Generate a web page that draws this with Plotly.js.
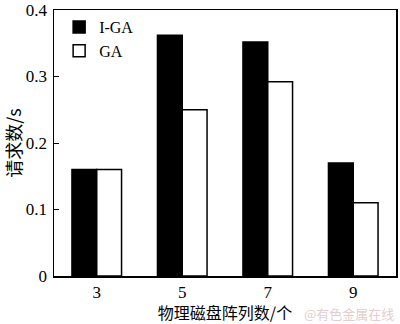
<!DOCTYPE html>
<html><head><meta charset="utf-8">
<script src="https://cdn.plot.ly/plotly-3.0.1.min.js"></script>
<style>body{margin:0;background:#fff}#c{width:400px;height:324px}</style>
</head><body><div id="c"></div>
<script>
const categories = ['3', '5', '7', '9'];
const igaValues = [0.16, 0.362, 0.352, 0.17];
const gaValues = [0.16, 0.25, 0.292, 0.11];
const yTicks = [0, 0.1, 0.2, 0.3, 0.4];
const yTickText = ['0', '0.1', '0.2', '0.3', '0.4'];

const serif = '"Liberation Serif", "Times New Roman", "Noto Sans CJK SC", serif';
const traces = [
  {type: 'bar', name: 'I-GA', x: categories, y: igaValues,
   marker: {color: '#000', line: {color: '#000', width: 1.5}}},
  {type: 'bar', name: 'GA', x: categories, y: gaValues,
   marker: {color: '#fff', line: {color: '#000', width: 1.5}}}
];
const layout = {
  width: 400, height: 324,
  margin: {l: 54, r: 4, t: 10, b: 48},
  paper_bgcolor: '#fff', plot_bgcolor: '#fff',
  barmode: 'group', bargap: 0.42, bargroupgap: 0,
  font: {family: serif, size: 17, color: '#000'},
  showlegend: true,
  legend: {x: 0.015, y: 1.0, xanchor: 'left', yanchor: 'top',
    bgcolor: 'rgba(0,0,0,0)', font: {family: serif, size: 16},
    tracegroupgap: 0, itemwidth: 30},
  xaxis: {type: 'category', showline: true, linecolor: '#000', linewidth: 1.5,
    mirror: true, ticks: '', tickfont: {family: serif, size: 17},
    title: {text: '物理磁盘阵列数/个', font: {family: '"Noto Sans CJK SC"', size: 16}, standoff: 5}},
  yaxis: {range: [0, 0.4], tickvals: yTicks, ticktext: yTickText,
    showline: true, linecolor: '#000', linewidth: 1.5, mirror: true,
    ticks: 'inside', ticklen: 5, tickcolor: '#000', showgrid: false, zeroline: false,
    ticklabeloverflow: 'allow', ticklabelstandoff: 2,
    tickfont: {family: serif, size: 17},
    title: {text: '请求数/s', font: {family: '"Noto Sans CJK SC"', size: 18}, standoff: 6}},
  annotations: [{text: '@有色金属在线', xref: 'paper', yref: 'paper', x: 1.0, y: -0.14,
    xanchor: 'right', yanchor: 'middle', showarrow: false,
    font: {family: '"Noto Sans CJK SC"', size: 13, color: '#e6cccc'}}]
};
Plotly.newPlot('c', traces, layout, {displayModeBar: false, staticPlot: true});
</script></body></html>
